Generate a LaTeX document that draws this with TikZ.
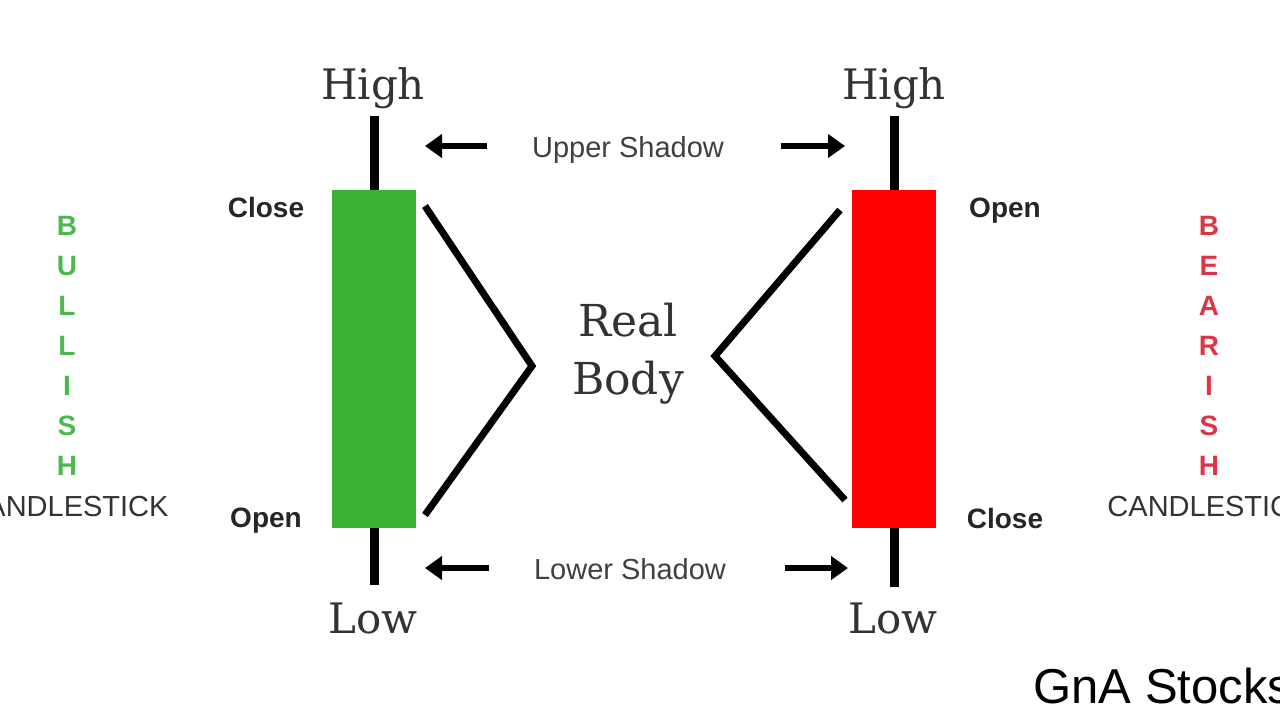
\documentclass[tikz,border=0pt]{standalone}
\usepackage{fontspec}
\setsansfont{Liberation Sans}
\newfontfamily\slabfont{DejaVu Serif}
\usepackage{tikz}
\usetikzlibrary{arrows.meta, positioning}
\definecolor{bull-green}{HTML}{3AB034}
\definecolor{bull-text}{HTML}{4DB84D}
\definecolor{bear-red}{HTML}{FF0000}
\definecolor{bear-text}{HTML}{DC3545}
\definecolor{label-gray}{HTML}{333333}

\begin{document}
\begin{tikzpicture}[x=0.5pt, y=-0.5pt,
			body/.style={
				draw=none, inner sep=0pt,
				minimum width=42pt, minimum height=169pt
			},
			wick/.style={line width=4.5pt},
			bracket/.style={line width=3.5pt},
			shadowarrow/.style={line width=3.3pt, -{Triangle[length=8.5pt, width=11.5pt]}},
			price/.style={font=\slabfont\fontsize{21}{24}\selectfont, text=label-gray, anchor=base},
			realbody/.style={font=\slabfont\fontsize{22}{26}\selectfont, text=label-gray, anchor=base},
			level/.style={font=\sffamily\bfseries\fontsize{14}{16}\selectfont, text=black!85, anchor=base},
			shadowlbl/.style={font=\sffamily\fontsize{14.5}{16}\selectfont, text=black!75, anchor=base},
			letter/.style={font=\sffamily\bfseries\fontsize{14}{16}\selectfont, anchor=base},
			kind/.style={font=\sffamily\fontsize{14.5}{16}\selectfont, text=label-gray, anchor=base}
			]
			\useasboundingbox (0,0) rectangle (1280,720);
			\clip (0,0) rectangle (1280,720);
			
			% candles
			\node[body, fill=bull-green] (gbody) at (374,359) {};
			\node[body, fill=bear-red] (rbody) at (894,359) {};
			\coordinate (gtop) at (374,116);
			\coordinate (gbot) at (374,585);
			\coordinate (rtop) at (894,116);
			\coordinate (rbot) at (894,587);
			\draw[wick] (gtop) -- (gbody.north);
			\draw[wick] (gbody.south) -- (gbot);
			\draw[wick] (rtop) -- (rbody.north);
			\draw[wick] (rbody.south) -- (rbot);
			
			% price labels
			\node[price] (ghigh) at (373,99) {High};
			\node[price] (glow) at (373,633) {Low};
			\node[price] (rhigh) at (894,99) {High};
			\node[price] (rlow) at (893,633) {Low};
			\node[level] (gclose) at (266,217) {Close};
			\node[level] (gopen) at (266,527) {Open};
			\node[level] (ropen) at (1005,217) {Open};
			\node[level] (rclose) at (1005,528) {Close};
			
			% shadows
			\node[shadowlbl] (upper) at (628,157) {Upper Shadow};
			\node[shadowlbl] (lower) at (630,579) {Lower Shadow};
			\coordinate (ul) at (425,146);
			\coordinate (ur) at (845,146);
			\coordinate (ll) at (425,568);
			\coordinate (lr) at (848,568);
			\draw[shadowarrow] ([xshift=-19pt]upper.west |- ul) -- (ul);
			\draw[shadowarrow] ([xshift=25pt]upper.east |- ur) -- (ur);
			\draw[shadowarrow] ([xshift=-19pt]lower.west |- ll) -- (ll);
			\draw[shadowarrow] ([xshift=26pt]lower.east |- lr) -- (lr);
			
			% real body
			\node[realbody] (real) at (628,336) {Real};
			\node[realbody] (bodytxt) at (628,394) {Body};
			\coordinate (gtip) at (532,366);
			\coordinate (rtip) at (715,356);
			\draw[bracket] (425,206) -- (gtip) -- (425,515);
			\draw[bracket] (840,210) -- (rtip) -- (845,500);
			
			% side titles
			\foreach \ch [count=\i] in {B,U,L,L,I,S,H}
				\node[letter, text=bull-text] (bull\i) at (67,195+40*\i) {\ch};
			\foreach \ch [count=\i] in {B,E,A,R,I,S,H}
				\node[letter, text=bear-text] (bear\i) at (1209,195+40*\i) {\ch};
			\node[kind] (gkind) at (67,516) {CANDLESTICK};
			\node[kind] (rkind) at (1209,516) {CANDLESTICK};
			
			\node[font=\sffamily\fontsize{24.5}{28}\selectfont, inner sep=0pt, anchor=base west] (brand) at (1033,703) {GnA Stocks};
		\end{tikzpicture}
\end{document}
